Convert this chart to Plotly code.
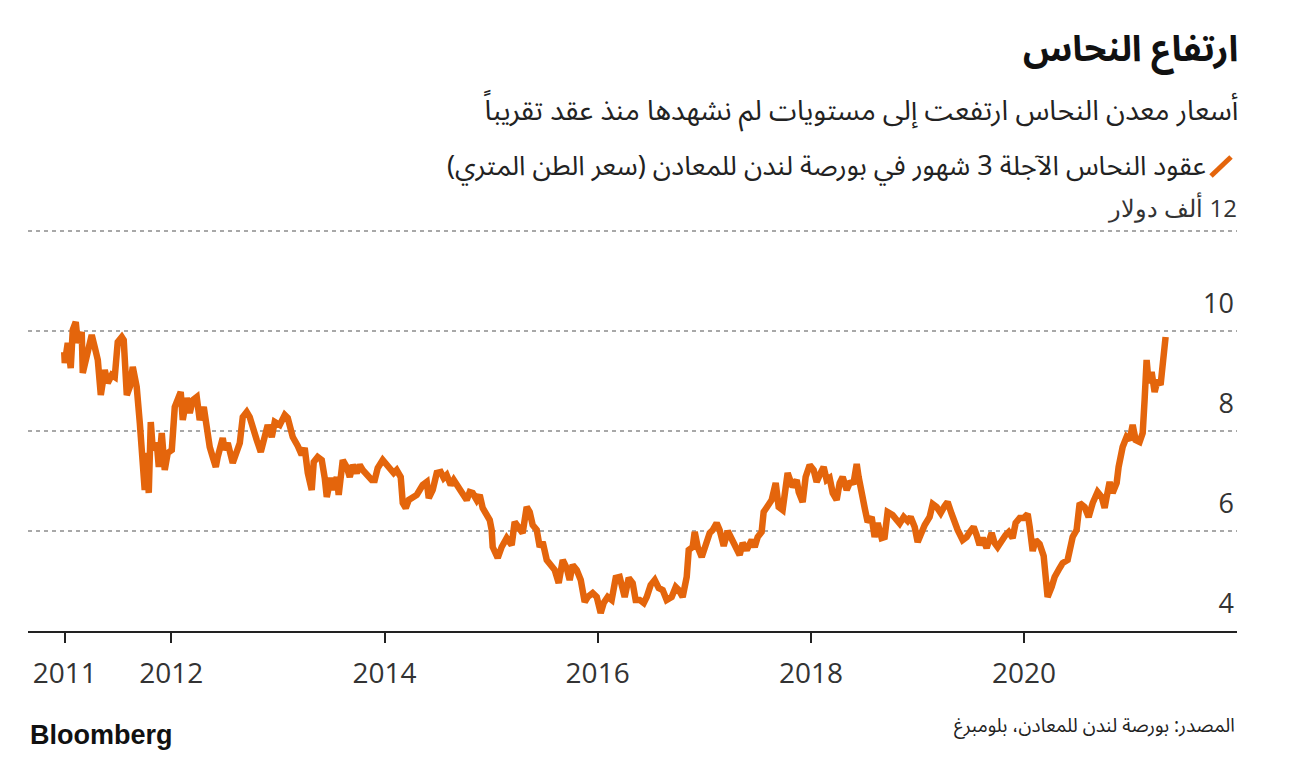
import pandas as pd
import plotly.graph_objects as go

# ---- data: LME 3-month copper, thousand USD per metric ton (decimal years) ----
years = [
    2010.995, 2011.000, 2011.028, 2011.056, 2011.075, 2011.103, 2011.122, 2011.159, 2011.169, 2011.206,
    2011.253, 2011.281, 2011.310, 2011.338, 2011.375, 2011.403, 2011.441, 2011.469, 2011.497, 2011.535,
    2011.553, 2011.582, 2011.610, 2011.638, 2011.675, 2011.704, 2011.732, 2011.750, 2011.769, 2011.788,
    2011.807, 2011.826, 2011.863, 2011.882, 2011.910, 2011.938, 2011.966, 2012.004, 2012.032, 2012.060,
    2012.088, 2012.107, 2012.144, 2012.173, 2012.201, 2012.238, 2012.266, 2012.304, 2012.332, 2012.360,
    2012.388, 2012.417, 2012.435, 2012.482, 2012.501, 2012.529, 2012.576, 2012.614, 2012.642, 2012.670,
    2012.707, 2012.735, 2012.764, 2012.801, 2012.839, 2012.857, 2012.904, 2012.942, 2012.970, 2013.017,
    2013.064, 2013.092, 2013.139, 2013.186, 2013.223, 2013.251, 2013.280, 2013.317, 2013.336, 2013.373,
    2013.411, 2013.439, 2013.458, 2013.495, 2013.523, 2013.552, 2013.570, 2013.608, 2013.645, 2013.674,
    2013.702, 2013.739, 2013.767, 2013.795, 2013.833, 2013.880, 2013.908, 2013.936, 2013.983, 2014.021,
    2014.049, 2014.086, 2014.114, 2014.152, 2014.171, 2014.199, 2014.227, 2014.265, 2014.302, 2014.330,
    2014.358, 2014.396, 2014.415, 2014.452, 2014.490, 2014.527, 2014.555, 2014.583, 2014.621, 2014.649,
    2014.687, 2014.734, 2014.771, 2014.799, 2014.827, 2014.865, 2014.893, 2014.921, 2014.959, 2014.987,
    2015.005, 2015.015, 2015.062, 2015.099, 2015.146, 2015.193, 2015.221, 2015.250, 2015.296, 2015.334,
    2015.362, 2015.390, 2015.428, 2015.456, 2015.484, 2015.522, 2015.559, 2015.597, 2015.634, 2015.672,
    2015.709, 2015.737, 2015.765, 2015.803, 2015.841, 2015.878, 2015.906, 2015.953, 2015.991, 2016.028,
    2016.056, 2016.094, 2016.131, 2016.169, 2016.206, 2016.253, 2016.291, 2016.328, 2016.356, 2016.394,
    2016.432, 2016.460, 2016.497, 2016.535, 2016.572, 2016.610, 2016.647, 2016.694, 2016.732, 2016.760,
    2016.797, 2016.835, 2016.854, 2016.891, 2016.910, 2016.938, 2016.976, 2017.013, 2017.051, 2017.079,
    2017.116, 2017.144, 2017.182, 2017.220, 2017.266, 2017.304, 2017.332, 2017.360, 2017.398, 2017.445,
    2017.473, 2017.501, 2017.538, 2017.557, 2017.595, 2017.632, 2017.670, 2017.698, 2017.735, 2017.773,
    2017.782, 2017.829, 2017.867, 2017.886, 2017.923, 2017.951, 2017.989, 2018.026, 2018.054, 2018.092,
    2018.120, 2018.148, 2018.176, 2018.205, 2018.242, 2018.270, 2018.298, 2018.336, 2018.364, 2018.402,
    2018.430, 2018.448, 2018.477, 2018.505, 2018.533, 2018.570, 2018.598, 2018.627, 2018.664, 2018.692,
    2018.720, 2018.767, 2018.805, 2018.833, 2018.871, 2018.908, 2018.936, 2018.974, 2019.002, 2019.039,
    2019.068, 2019.114, 2019.143, 2019.180, 2019.218, 2019.255, 2019.283, 2019.321, 2019.349, 2019.377,
    2019.424, 2019.462, 2019.490, 2019.527, 2019.555, 2019.583, 2019.612, 2019.649, 2019.696, 2019.724,
    2019.752, 2019.790, 2019.827, 2019.856, 2019.893, 2019.921, 2019.959, 2019.996, 2020.034, 2020.053,
    2020.081, 2020.109, 2020.146, 2020.184, 2020.212, 2020.221, 2020.259, 2020.287, 2020.334, 2020.362,
    2020.409, 2020.428, 2020.456, 2020.493, 2020.522, 2020.568, 2020.606, 2020.644, 2020.690, 2020.728,
    2020.756, 2020.775, 2020.803, 2020.831, 2020.869, 2020.887, 2020.925, 2020.962, 2020.991, 2021.019,
    2021.047, 2021.084, 2021.113, 2021.131, 2021.150, 2021.169, 2021.197, 2021.225, 2021.253, 2021.281,
    2021.300, 2021.328,
]
prices = [
    9.58, 9.36, 9.76, 9.26, 10.02, 10.18, 9.76, 9.98, 9.16, 9.56,
    9.92, 9.68, 9.42, 8.72, 9.22, 8.96, 9.12, 9.08, 9.78, 9.88,
    9.82, 8.72, 8.88, 9.28, 8.88, 8.16, 7.36, 6.82, 7.56, 6.76,
    8.18, 7.62, 7.76, 7.28, 7.96, 7.22, 7.56, 7.62, 8.48, 8.68,
    8.78, 8.22, 8.66, 8.36, 8.62, 8.68, 8.22, 8.48, 8.02, 7.68,
    7.48, 7.28, 7.48, 7.86, 7.62, 7.76, 7.36, 7.56, 7.76, 8.28,
    8.38, 8.28, 8.02, 7.82, 7.58, 7.76, 8.12, 7.88, 8.18, 8.12,
    8.32, 8.26, 7.88, 7.70, 7.52, 7.66, 7.16, 6.82, 7.38, 7.48,
    7.42, 7.06, 6.68, 7.06, 6.82, 7.08, 6.72, 7.42, 7.28, 7.08,
    7.32, 7.16, 7.32, 7.22, 7.12, 7.02, 7.02, 7.26, 7.42, 7.32,
    7.22, 7.16, 7.22, 7.08, 6.56, 6.46, 6.62, 6.66, 6.72, 6.82,
    6.92, 6.98, 6.66, 6.82, 7.16, 7.18, 7.06, 7.12, 6.92, 7.02,
    6.88, 6.76, 6.62, 6.78, 6.76, 6.62, 6.72, 6.46, 6.32, 6.22,
    6.02, 5.68, 5.46, 5.68, 5.86, 5.72, 6.18, 6.08, 5.96, 6.48,
    6.38, 6.12, 6.02, 5.68, 5.78, 5.42, 5.32, 5.22, 4.96, 5.42,
    5.26, 5.02, 5.32, 5.22, 5.02, 4.58, 4.68, 4.76, 4.68, 4.36,
    4.56, 4.68, 4.62, 5.06, 5.08, 4.68, 5.06, 4.96, 4.62, 4.62,
    4.56, 4.68, 4.92, 5.02, 4.86, 4.82, 4.62, 4.68, 4.88, 4.82,
    4.68, 5.08, 5.62, 5.68, 5.98, 5.68, 5.48, 5.76, 5.96, 6.02,
    6.16, 6.02, 5.70, 6.00, 5.82, 5.62, 5.52, 5.76, 5.62, 5.82,
    5.68, 5.88, 5.98, 6.38, 6.48, 6.62, 6.96, 6.48, 6.42, 6.88,
    7.16, 6.88, 7.02, 6.78, 6.58, 7.08, 7.32, 7.22, 6.98, 7.16,
    7.28, 7.02, 7.06, 6.76, 6.62, 6.96, 7.08, 6.82, 6.96, 6.98,
    7.34, 7.08, 6.82, 6.46, 6.18, 6.28, 5.88, 6.16, 5.86, 5.88,
    6.38, 6.32, 6.22, 6.15, 6.28, 6.20, 6.28, 6.08, 5.78, 6.02,
    6.12, 6.28, 6.54, 6.48, 6.36, 6.50, 6.58, 6.34, 6.14, 6.02,
    5.82, 5.88, 5.98, 6.08, 5.92, 5.72, 5.86, 5.66, 5.96, 5.76,
    5.68, 5.82, 5.92, 5.98, 5.86, 6.16, 6.26, 6.26, 6.34, 6.08,
    5.60, 5.82, 5.74, 5.50, 5.00, 4.68, 4.88, 5.08, 5.26, 5.36,
    5.42, 5.68, 5.88, 6.02, 6.56, 6.48, 6.28, 6.56, 6.78, 6.68,
    6.46, 6.68, 6.98, 6.76, 6.96, 7.28, 7.68, 7.88, 7.82, 8.12,
    7.82, 7.78, 7.96, 8.62, 9.42, 8.96, 9.18, 8.78, 9.02, 8.92,
    9.42, 9.88,
]
x_tick_years = [2011, 2012, 2014, 2016, 2018, 2020]
y_tick_vals = [4, 6, 8, 10, 12]


def rtl(s):
    return "\u202B" + s + "\u202C"


title_text = "ارتفاع النحاس"
subtitle_text = "أسعار معدن النحاس ارتفعت إلى مستويات لم نشهدها منذ عقد تقريباً"
legend_text = "عقود النحاس الآجلة 3 شهور في بورصة لندن للمعادن (سعر الطن المتري)"
unit_text = "12 ألف دولار"
source_text = "المصدر: بورصة لندن للمعادن، بلومبرغ"

# top tick (12) carries the unit and is placed as an annotation on the y scale
y_tick_text = [str(v) for v in y_tick_vals[:-1]] + [""]

base = pd.Timestamp("2011-01-01")
dates = [base + pd.Timedelta(days=(y - 2011) * 365.25) for y in years]

ORANGE = "#E4650C"
AR_FONT = "Noto Sans Arabic, DejaVu Sans, sans-serif"
NUM_FONT = "Open Sans, Noto Sans, sans-serif"

fig = go.Figure()
fig.add_trace(go.Scatter(
    x=dates, y=prices, mode="lines",
    line=dict(color=ORANGE, width=6.5, shape="linear"),
    hoverinfo="skip", showlegend=False,
))

fig.update_layout(
    width=1297, height=764,
    margin=dict(l=28, r=60, t=229, b=133, autoexpand=False),
    paper_bgcolor="white", plot_bgcolor="white",
    showlegend=False,
    xaxis=dict(
        type="date",
        range=["2010-08-28", "2021-12-31"],
        tickvals=[pd.Timestamp(f"{y}-01-01") for y in x_tick_years],
        ticktext=[str(y) for y in x_tick_years],
        showgrid=False, zeroline=False,
        showline=True, linecolor="#222", linewidth=2,
        ticks="outside", ticklen=10, tickwidth=2, tickcolor="#222",
        tickfont=dict(family=NUM_FONT, size=28, color="#333"),
        ticklabelstandoff=6,
        automargin=False,
        fixedrange=True,
    ),
    yaxis=dict(
        range=[4, 12.04],
        side="right",
        tickvals=y_tick_vals, ticktext=y_tick_text,
        showgrid=True, gridcolor="#A8A8A8", gridwidth=2, griddash="4px,4px",
        zeroline=False, showline=False, ticks="",
        ticklabelposition="inside",
        ticklabelshift=-27,
        tickfont=dict(family=NUM_FONT, size=27, color="#333"),
        automargin=False,
        fixedrange=True,
    ),
)

# paper coords: plot area x 28..1237 (1209 px), y 631..229 (402 px)
def px(x):
    return (x - 28) / 1209


def py(y):
    return (631 - y) / 402


annos = [
    dict(text=rtl(title_text), x=px(1240), y=py(50), xanchor="right", yanchor="middle",
         font=dict(family=AR_FONT, size=36, color="#111", weight="bold")),
    dict(text=rtl(subtitle_text), x=px(1240), y=py(112), xanchor="right", yanchor="middle",
         font=dict(family=AR_FONT, size=28, color="#222")),
    dict(text=rtl(legend_text), x=px(1208), y=py(167), xanchor="right", yanchor="middle",
         font=dict(family=AR_FONT, size=27, color="#222")),
    dict(text="Bloomberg", x=px(28), y=py(735), xanchor="left", yanchor="middle",
         font=dict(family="Liberation Sans, Arial, sans-serif", size=27, color="#111", weight="bold")),
    dict(text=rtl(source_text), x=px(1237), y=py(726), xanchor="right", yanchor="middle",
         font=dict(family=AR_FONT, size=19, color="#222")),
]
for a in annos:
    a.update(xref="paper", yref="paper", showarrow=False)
# unit label sitting above the 12 gridline, on the y scale
annos.append(dict(text=rtl(unit_text), xref="paper", yref="y", x=px(1239), y=y_tick_vals[-1],
                  xanchor="right", yanchor="middle", yshift=24, showarrow=False,
                  font=dict(family=NUM_FONT, size=24, color="#333")))
fig.update_layout(annotations=annos)

# legend key (slash)
fig.add_shape(type="line", xref="paper", yref="paper",
              x0=px(1211), y0=py(176), x1=px(1231), y1=py(157),
              line=dict(color=ORANGE, width=5))

fig.write_html("out.html", config={"displayModeBar": False},
               post_script="document.body.style.margin='0';document.body.style.overflow='hidden';")
